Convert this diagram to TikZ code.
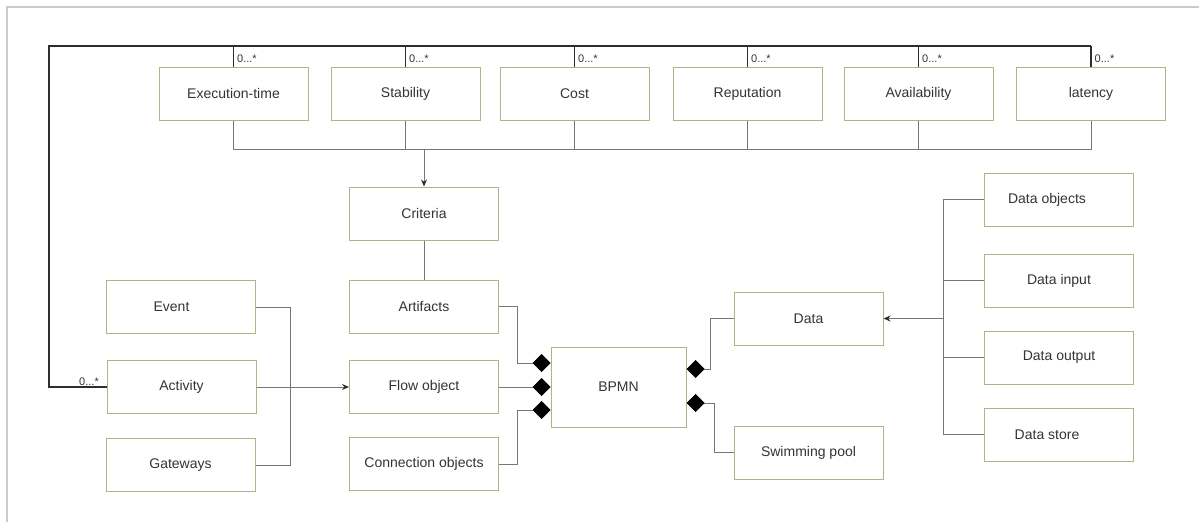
\documentclass[tikz,border=0pt]{standalone}
\usepackage{fontspec}
\setmainfont{Liberation Sans}
\usetikzlibrary{arrows.meta,calc}
\definecolor{boxgreen}{HTML}{A3B986}
\definecolor{txt}{HTML}{333333}
\definecolor{wire}{HTML}{777777}
\definecolor{loopc}{HTML}{2E2E2E}
\definecolor{framec}{HTML}{CCCCCC}
\tikzset{
  box/.style={draw=boxgreen, line width=1pt, minimum width=149pt, minimum height=53pt,
    inner sep=0pt, text=txt, font=\fontsize{14}{16}\selectfont},
  wirel/.style={draw=wire, line width=1pt},
  loopl/.style={draw=loopc, line width=1.4pt},
  mult/.style={text=txt, font=\fontsize{11}{12}\selectfont, inner sep=1pt},
  arr/.style={-{Stealth[length=7pt,width=6pt,color=loopc]}},
  dia/.style={-{Diamond[length=18pt,width=18pt,fill=black,color=black]}},
}
\begin{document}
\begin{tikzpicture}[x=1pt,y=-1pt]
\useasboundingbox (0,0) rectangle (1199,522);
% page frame (top and left edges)
\draw[framec, line width=1.5pt] (7,522) -- (7,7) -- (1199,7);

% quality criteria
\node[box] (exec)  at (233.5,93.5) {Execution-time};
\node[box] (stab)  at (405.5,93.5) {Stability};
\node[box] (cost)  at (574.5,93.5) {Cost};
\node[box] (rep)   at (747.5,93.5) {Reputation};
\node[box] (avail) at (918.5,93.5) {Availability};
\node[box] (lat)   at (1091,93.5) {latency};

\node[box] (crit) at (424,213.5) {Criteria};
\node[box] (art)  at (424,306.5) {Artifacts};
\node[box] (flow) at (424,387) {Flow object};
\node[box] (conn) at (424,464) {Connection objects};

\node[box] (event) at (180.5,307) {Event\hspace*{18pt}};
\node[box] (act)   at (181.5,387) {Activity};
\node[box] (gate)  at (180.5,465) {Gateways};

\node[box, minimum width=135pt, minimum height=80pt] (bpmn) at (618.5,387) {BPMN};

\node[box] (data) at (808.5,318.5) {Data};
\node[box] (swim) at (808.5,452.5) {Swimming pool};

\node[box] (dobj) at (1059,199.5) {Data objects\hspace*{24pt}};
\node[box] (din)  at (1059,280.5) {Data input};
\node[box] (dout) at (1059,357.5) {Data output};
\node[box] (dsto) at (1059,434.5) {Data store\hspace*{24pt}};

% helper coordinates for the buses
\coordinate (topbus) at (0,46);
\coordinate (critbus) at (0,149);
\coordinate (leftbus) at (290,0);
\coordinate (databus) at (943,0);

% multiplicity loop from Activity to every criterion
\draw[loopl] (act.west) node[mult, anchor=south east, xshift=-6pt] {0...*}
  -| (49,46) -- (lat.north |- topbus);
\foreach \n in {exec,stab,cost,rep,avail,lat}
  \draw[loopl] (\n.north |- topbus) -- (\n.north)
    node[mult, pos=0.6, anchor=west, xshift=2pt] {0...*};

% criteria bus towards Criteria
\draw[wirel] (exec.south) |- (critbus -| lat.south) -- (lat.south);
\foreach \n in {stab,cost,rep,avail}
  \draw[wirel] (\n.south) -- (\n.south |- critbus);
\draw[wirel, arr] (crit.north |- critbus) -- (crit.north);
\draw[wirel] (crit.south) -- (art.north);

% flow-object kinds
\draw[wirel] (event.east) -| (leftbus |- gate.east) -- (gate.east);
\draw[wirel, arr] (act.east) -- (flow.west);

% composition into BPMN
\draw[wirel, dia] (art.east) -- ++(18,0) |- ([yshift=24pt]bpmn.west);
\draw[wirel, dia] (flow.east) -- (bpmn.west);
\draw[wirel, dia] (conn.east) -- ++(18,0) |- ([yshift=-23pt]bpmn.west);
\draw[wirel, dia] (data.west) -- ++(-23,0) |- ([yshift=18pt]bpmn.east);
\draw[wirel, dia] (swim.west) -- ++(-19,0) |- ([yshift=-16pt]bpmn.east);

% data kinds
\draw[wirel] (dobj.west) -| (databus |- dsto.west) -- (dsto.west);
\draw[wirel] (din.west) -- (databus |- din.west);
\draw[wirel] (dout.west) -- (databus |- dout.west);
\draw[wirel, arr] (databus |- data.east) -- (data.east);
\end{tikzpicture}
\end{document}
